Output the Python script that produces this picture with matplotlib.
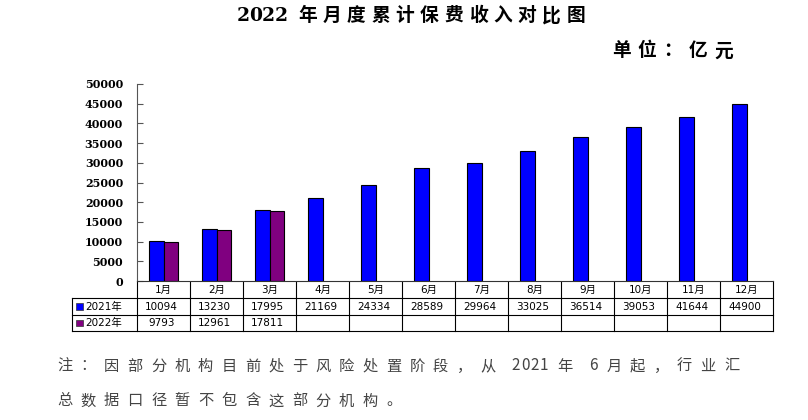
import matplotlib
matplotlib.use("Agg")
import matplotlib.pyplot as plt
import numpy as np

plt.rcParams['font.family'] = ['DejaVu Sans', 'Noto Sans CJK SC']

# data
months = ['1月', '2月', '3月', '4月', '5月', '6月', '7月', '8月', '9月', '10月', '11月', '12月']
series_names = ['2021年', '2022年']
premium_2021 = [10094, 13230, 17995, 21169, 24334, 28589, 29964, 33025, 36514, 39053, 41644, 44900]
premium_2022 = [9793, 12961, 17811]
colors = ['#0000FF', '#800080']

title = '2022 年月度累计保费收入对比图'
unit = '单位：亿元'
note1 = '注：因部分机构目前处于风险处置阶段，从 2021 年 6 月起，行业汇'
note2 = '总数据口径暂不包含这部分机构。'

W, H = 808, 420
fig = plt.figure(figsize=(W / 100, H / 100), dpi=100)

# pixel layout
ax_l, ax_r, ax_t, ax_b = 137, 773, 84, 281
ax = fig.add_axes([ax_l / W, 1 - ax_b / H, (ax_r - ax_l) / W, (ax_b - ax_t) / H])

x = np.arange(len(months))
bw = 0.28
ax.bar(x - bw, premium_2021, bw, align='edge', color=colors[0], edgecolor='black', linewidth=0.8)
ax.bar(x[:len(premium_2022)], premium_2022, bw, align='edge', color=colors[1], edgecolor='black', linewidth=0.8)

ax.set_xlim(-0.5, len(months) - 0.5)
ax.set_ylim(0, 50000)
ax.set_yticks(np.arange(0, 50001, 5000))
ax.set_xticks([])
ax.tick_params(axis='y', direction='in', length=4, pad=10, color='#555555')
for lab in ax.get_yticklabels():
    lab.set_fontfamily('DejaVu Serif')
    lab.set_fontweight('bold')
    lab.set_fontsize(8)
ax.spines['top'].set_visible(False)
ax.spines['right'].set_visible(False)
ax.spines['left'].set_color('#555555')
ax.spines['bottom'].set_color('#333333')

# overlay in pixel coords for table and texts
ov = fig.add_axes([0, 0, 1, 1], zorder=-1)
ov.set_xlim(0, W)
ov.set_ylim(H, 0)
ov.axis('off')

def spaced(x0, y0, s, size, adv_cjk, adv_asc, adv_sp, **kw):
    xx = x0
    for ch in s:
        if ch != ' ':
            ov.text(xx, y0, ch, fontsize=size, ha='left', va='center', **kw)
        if ch == ' ':
            xx += adv_sp
        elif ord(ch) > 127:
            xx += adv_cjk
        else:
            xx += adv_asc
    return xx

spaced(237, 16, title, 13.5, 24.4, 12.5, 11, fontweight='bold', color='black',
       family=['DejaVu Serif', 'Noto Sans CJK SC'])
spaced(612, 51, unit, 13.5, 25.6, 12, 10, fontweight='bold', color='black',
       family=['Noto Sans CJK SC'])
note_kw = dict(color='#444444', family=['Noto Sans CJK SC'])
spaced(57, 366, note1, 11, 23.5, 9.5, 8, **note_kw)
spaced(57, 401, note2, 11, 23.5, 9.5, 8, **note_kw)

# data table below the axis
col_w = (ax_r - ax_l) / len(months)
leg_l = 72
rows = [ax_b, 298, 315, 331]
lk = dict(color='black', linewidth=0.8)
for i in range(len(months) + 1):
    cx = ax_l + i * col_w
    ov.plot([cx, cx], [rows[0], rows[-1]], **lk)
ov.plot([leg_l, leg_l], [rows[1], rows[-1]], **lk)
for r in rows[1:]:
    ov.plot([leg_l, ax_r], [r, r], **lk)

for i, m in enumerate(months):
    cx = ax_l + (i + 0.5) * col_w
    ov.text(cx, (rows[0] + rows[1]) / 2 + 0.5, m, fontsize=7.5, ha='center', va='center')

for k, (name, vals) in enumerate(zip(series_names, [premium_2021, premium_2022])):
    cy = (rows[k + 1] + rows[k + 2]) / 2
    ov.add_patch(plt.Rectangle((leg_l + 4, cy - 3.5), 6.5, 6.5, facecolor=colors[k], edgecolor='#333333', linewidth=0.5))
    ov.text(leg_l + 13, cy, name, fontsize=7.5, ha='left', va='center')
    for i, v in enumerate(vals):
        cx = ax_l + (i + 0.5) * col_w - 2
        ov.text(cx, cy, str(v), fontsize=7.5, ha='center', va='center')

fig.savefig('out.png', dpi=100)
